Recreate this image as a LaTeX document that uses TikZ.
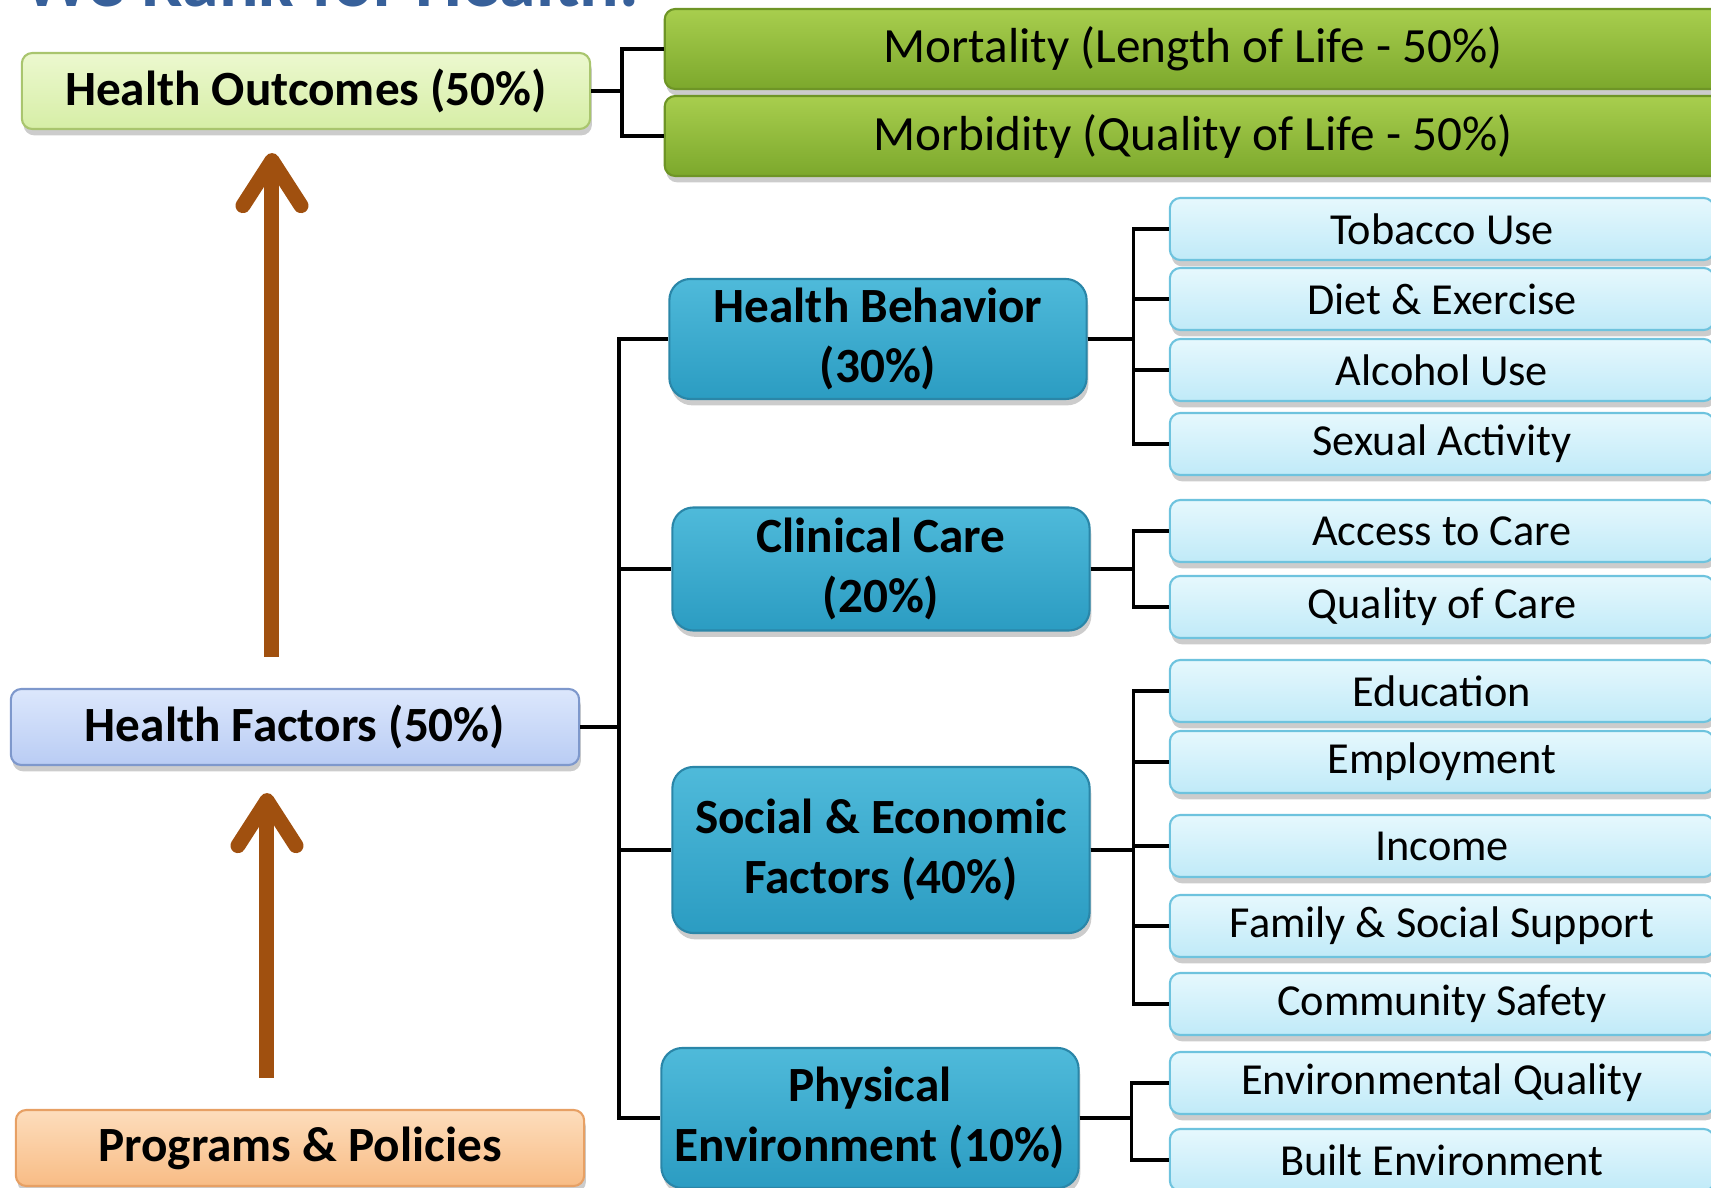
\documentclass[tikz,border=0pt]{standalone}
\usepackage{fontspec}
\setmainfont{Carlito}
\usepackage{tikz}
\usetikzlibrary{arrows.meta, shadows}
\usepackage{xcolor}

\definecolor{titleblue}{HTML}{37609A}
\definecolor{hotop}{HTML}{ECF8CF}
\definecolor{hobot}{HTML}{D6EEA6}
\definecolor{holine}{HTML}{A9C56E}
\definecolor{grtop}{HTML}{A8CE4E}
\definecolor{grbot}{HTML}{7CA82C}
\definecolor{grline}{HTML}{6E9526}
\definecolor{cattop}{HTML}{4FBADA}
\definecolor{catbot}{HTML}{2B9CC2}
\definecolor{catline}{HTML}{2A86A8}
\definecolor{ittop}{HTML}{E6F8FD}
\definecolor{itbot}{HTML}{C0EAF8}
\definecolor{itline}{HTML}{6EC3DE}
\definecolor{hftop}{HTML}{DCE7FC}
\definecolor{hfbot}{HTML}{B9CCF4}
\definecolor{hfline}{HTML}{7E98CC}
\definecolor{pptop}{HTML}{FDDDBC}
\definecolor{ppbot}{HTML}{F8BC85}
\definecolor{ppline}{HTML}{E7A064}
\definecolor{arrowbrown}{HTML}{A0500F}

\begin{document}
\begin{tikzpicture}[
    x=0.01cm, y=-0.01cm,
    box/.style={rectangle, draw, rounded corners=3pt, text centered, line width=0.6pt, inner sep=0pt,
        drop shadow={shadow xshift=0.5pt, shadow yshift=-1.8pt, opacity=0.4}},
    sidebox/.style={box, minimum width=5.68cm, minimum height=0.76cm, font=\fontsize{14pt}{17pt}\selectfont\bfseries},
    outbox/.style={sidebox, top color=hotop, bottom color=hobot, draw=holine},
    factbox/.style={sidebox, top color=hftop, bottom color=hfbot, draw=hfline},
    progbox/.style={sidebox, top color=pptop, bottom color=ppbot, draw=ppline},
    greenbar/.style={box, top color=grtop, bottom color=grbot, draw=grline, minimum width=10.56cm, minimum height=0.80cm, font=\fontsize{14pt}{17pt}\selectfont},
    catbox/.style={box, top color=cattop, bottom color=catbot, draw=catline, rounded corners=6pt, align=center, minimum width=4.17cm, font=\fontsize{14pt}{17pt}\selectfont\bfseries},
    itembox/.style={box, top color=ittop, bottom color=itbot, draw=itline, minimum width=5.44cm, minimum height=0.62cm, font=\fontsize{12.6pt}{15pt}\selectfont},
    link/.style={line width=1pt, black},
    uparrow/.style={line width=0.15cm, arrowbrown, -{Straight Barb[length=0.45cm, width=0.58cm, round]}}
]
    \useasboundingbox (0,0) rectangle (1711,1188);
    \clip (0,0) rectangle (1711,1188);

    % title, cut by the page edge
    \node[anchor=base east, inner sep=0pt, text=titleblue, font=\fontsize{21pt}{25pt}\selectfont\bfseries] (title) at (640,7) {We Rank for Health.};

    % left column
    \node[outbox] (ho) at (306,91) {Health Outcomes (50\%)};
    \node[factbox] (hf) at (295,727) {Health Factors (50\%)};
    \node[progbox] (pp) at (300,1148) {Programs \& Policies};

    % outcomes
    \node[greenbar] (mort) at (1193,49) {Mortality (Length of Life - 50\%)};
    \node[greenbar] (morb) at (1193,136) {Morbidity (Quality of Life - 50\%)};

    % factor groups
    \node[catbox, minimum height=1.20cm] (hb) at (878,339) {Health Behavior\\(30\%)};
    \node[catbox, minimum height=1.23cm] (cc) at (881,569) {Clinical Care\\(20\%)};
    \node[catbox, minimum height=1.66cm] (se) at (881,850) {Social \& Economic\\Factors (40\%)};
    \node[catbox, minimum height=1.40cm] (pe) at (870,1118) {Physical\\Environment (10\%)};

    % single factors
    \node[itembox] (tob) at (1442,229) {Tobacco Use};
    \node[itembox] (diet) at (1442,299) {Diet \& Exercise};
    \node[itembox] (alc) at (1442,370) {Alcohol Use};
    \node[itembox] (sex) at (1442,444) {Sexual Activity};
    \node[itembox] (acc) at (1442,531) {Access to Care};
    \node[itembox] (qual) at (1442,607) {Quality of Care};
    \node[itembox] (edu) at (1442,691) {Education};
    \node[itembox] (emp) at (1442,762) {Employment};
    \node[itembox] (inc) at (1442,846) {Income};
    \node[itembox] (fam) at (1442,926) {Family \& Social Support};
    \node[itembox] (com) at (1442,1004) {Community Safety};
    \node[itembox] (envq) at (1442,1083) {Environmental Quality};
    \node[itembox] (built) at (1442,1160) {Built Environment};

    % brackets
    \foreach \c in {mort,morb} \draw[link] (ho.east) -- ++(31,0) |- (\c.west);
    \foreach \c in {hb,cc,se,pe} \draw[link] (hf.east) -- ++(39,0) |- (\c.west);
    \foreach \c in {tob,diet,alc,sex} \draw[link] (hb.east) -- ++(46,0) |- (\c.west);
    \foreach \c in {acc,qual} \draw[link] (cc.east) -- ++(43,0) |- (\c.west);
    \foreach \c in {edu,emp,inc,fam,com} \draw[link] (se.east) -- ++(43,0) |- (\c.west);
    \foreach \c in {envq,built} \draw[link] (pe.east) -- ++(52,0) |- (\c.west);

    % upward arrows
    \draw[uparrow, shorten <=0.31cm, shorten >=0.23cm] ([xshift=-0.23cm]hf.north) -- ([xshift=-0.23cm]hf.north |- ho.south);
    \draw[uparrow, shorten <=0.31cm, shorten >=0.27cm] ([xshift=-0.33cm]pp.north) -- ([xshift=-0.33cm]pp.north |- hf.south);
\end{tikzpicture}
\end{document}
